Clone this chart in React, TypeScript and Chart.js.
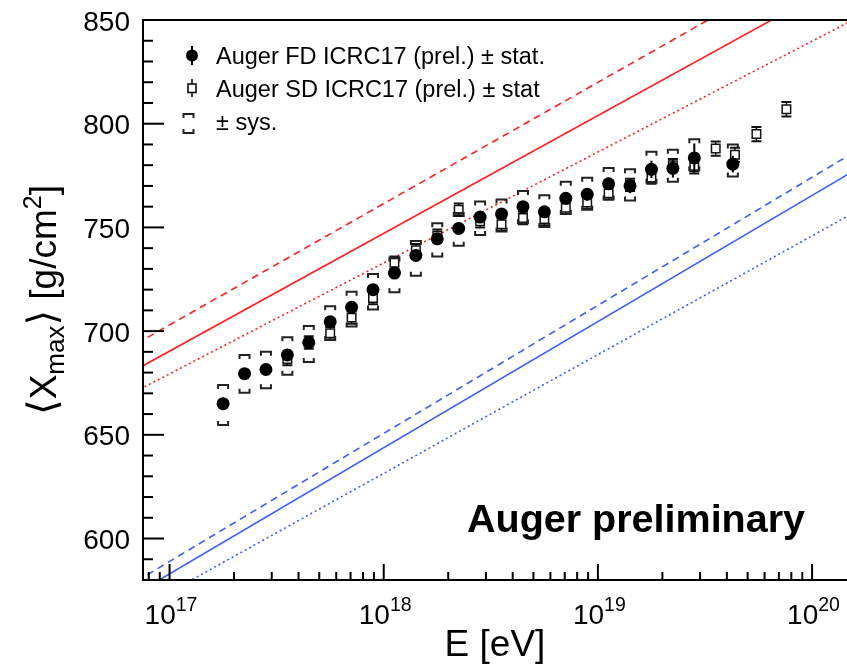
import React, { useEffect, useRef } from "react";
import { Chart, registerables } from "chart.js";

Chart.register(...registerables);

// ---- data (log10 E/eV and <Xmax> in g/cm^2) ----
const FD_LGE = [17.25, 17.35, 17.45, 17.55, 17.65, 17.75, 17.85, 17.95, 18.05, 18.15, 18.25, 18.35, 18.45, 18.55, 18.65, 18.75, 18.85, 18.95, 19.05, 19.15, 19.25, 19.35, 19.45, 19.63];
const FD_XMAX = [665, 679.5, 681.5, 688.5, 694.5, 704.5, 711.5, 720, 728, 736.5, 744.5, 749.5, 755, 756.5, 760, 757.5, 764, 766, 771, 770, 778, 778.5, 783.5, 780.5];
const FD_STAT = [3, 2.5, 2.5, 2.5, 2.5, 2.5, 2.5, 2.5, 2.5, 2.5, 2.5, 2.5, 2.5, 2.5, 2.5, 2.5, 3, 3, 3, 3.5, 4.2, 4.5, 7, 4];
const FD_SYS_UP = [9, 9, 8.5, 8.5, 8, 7.5, 7.5, 7.5, 7.5, 7, 7.5, 7.5, 7.5, 7, 7.5, 8, 8, 8, 7.7, 8, 8.5, 9, 9, 9.5];
const FD_SYS_DOWN = [10.3, 9.2, 9.1, 9.6, 9.4, 8.8, 9.3, 9.6, 9.3, 9.8, 8.5, 8.3, 8.7, 8.5, 8, 7.3, 7.5, 7.5, 7.6, 7, 6.5, 6.5, 6, 6];

const SD_LGE = [17.55, 17.65, 17.75, 17.85, 17.95, 18.05, 18.15, 18.25, 18.35, 18.45, 18.55, 18.65, 18.75, 18.85, 18.95, 19.05, 19.15, 19.25, 19.35, 19.45, 19.55, 19.64, 19.74, 19.88];
const SD_XMAX = [686.5, 694.5, 699, 706.5, 716, 733, 739, 746, 758.5, 753, 751.5, 754.5, 754, 759.5, 762, 766.5, 770.5, 774, 780, 779, 788, 785, 795, 807];
const SD_STAT = [3, 3, 3, 3, 3, 3, 3, 3, 3, 3, 3, 3, 3, 3, 3, 3, 3, 3, 3, 3, 3.4, 3.4, 3.4, 3.5];

// model lines: values at the two ends of MODEL_LGE
const MODEL_LGE = [16.8, 20.2];
const P_SOLID = [679, 872.1];
const P_DASHED = [691.3, 890.1];
const P_DOTTED = [668.7, 850.5];
const FE_SOLID = [570.8, 777.6];
const FE_DASHED = [576.6, 786.5];
const FE_DOTTED = [562.7, 757.4];

// axes
const X_MIN_LG = 16.876;
const X_MAX_LG = 20.163;
const Y_MIN = 580;
const Y_MAX = 850;
const Y_MAJOR_TICKS = [600, 650, 700, 750, 800, 850];
const X_DECADES = [17, 18, 19, 20];

const FONT = '"Liberation Sans", Arial, Helvetica, "DejaVu Sans", sans-serif';
const f = (size: number, bold = false) => `${bold ? "bold " : ""}${size}px ${FONT}`;

type Part = { t: string; size: number; dy: number; bold?: boolean };

function drawRich(ctx: CanvasRenderingContext2D, parts: Part[], x: number, y: number, align: "left" | "center") {
  let total = 0;
  const widths = parts.map((p) => {
    ctx.font = f(p.size, p.bold);
    const w = ctx.measureText(p.t).width;
    total += w;
    return w;
  });
  let cx = align === "center" ? x - total / 2 : x;
  ctx.textAlign = "left";
  ctx.textBaseline = "alphabetic";
  parts.forEach((p, i) => {
    ctx.font = f(p.size, p.bold);
    ctx.fillText(p.t, cx, y + p.dy);
    cx += widths[i];
  });
}

function drawBracket(ctx: CanvasRenderingContext2D, x: number, y: number, half: number, arm: number) {
  ctx.beginPath();
  ctx.moveTo(x - half, y + arm);
  ctx.lineTo(x - half, y);
  ctx.lineTo(x + half, y);
  ctx.lineTo(x + half, y + arm);
  ctx.stroke();
}

const decorPlugin = {
  id: "augerDecor",
  beforeDatasetDraw(chart: any, args: any) {
    const ctx: CanvasRenderingContext2D = chart.ctx;
    const xs = chart.scales.x;
    const ys = chart.scales.y;
    const a = chart.chartArea;
    const label = chart.data.datasets[args.index].label;
    ctx.save();
    ctx.beginPath();
    ctx.rect(a.left, a.top, a.right - a.left, a.bottom - a.top);
    ctx.clip();
    if (label === "SD") {
      ctx.strokeStyle = "#111";
      SD_LGE.forEach((lg, i) => {
        const px = xs.getPixelForValue(Math.pow(10, lg));
        const yHi = ys.getPixelForValue(SD_XMAX[i] + SD_STAT[i]);
        const yLo = ys.getPixelForValue(SD_XMAX[i] - SD_STAT[i]);
        ctx.lineWidth = 1.5;
        ctx.beginPath();
        ctx.moveTo(px, yHi);
        ctx.lineTo(px, yLo);
        ctx.stroke();
        ctx.lineWidth = 2;
        ctx.beginPath();
        ctx.moveTo(px - 5, yHi);
        ctx.lineTo(px + 5, yHi);
        ctx.moveTo(px - 5, yLo);
        ctx.lineTo(px + 5, yLo);
        ctx.stroke();
      });
    }
    if (label === "FD") {
      ctx.strokeStyle = "#222";
      ctx.lineWidth = 2;
      FD_LGE.forEach((lg, i) => {
        const px = xs.getPixelForValue(Math.pow(10, lg));
        const yUp = ys.getPixelForValue(FD_XMAX[i] + FD_SYS_UP[i]);
        const yDn = ys.getPixelForValue(FD_XMAX[i] - FD_SYS_DOWN[i]);
        drawBracket(ctx, px, yUp, 5, 4);
        drawBracket(ctx, px, yDn, 5, -4);
      });
      ctx.strokeStyle = "#000";
      ctx.lineWidth = 2;
      FD_LGE.forEach((lg, i) => {
        const px = xs.getPixelForValue(Math.pow(10, lg));
        ctx.beginPath();
        ctx.moveTo(px, ys.getPixelForValue(FD_XMAX[i] + FD_STAT[i]));
        ctx.lineTo(px, ys.getPixelForValue(FD_XMAX[i] - FD_STAT[i]));
        ctx.stroke();
      });
    }
    ctx.restore();
  },
  afterDraw(chart: any) {
    const ctx: CanvasRenderingContext2D = chart.ctx;
    const xs = chart.scales.x;
    const ys = chart.scales.y;
    const a = chart.chartArea;
    ctx.save();
    ctx.strokeStyle = "#000";
    ctx.fillStyle = "#000";
    ctx.lineWidth = 2;
    // frame (left, top, bottom)
    ctx.beginPath();
    ctx.moveTo(a.right + 2, a.top);
    ctx.lineTo(a.left, a.top);
    ctx.lineTo(a.left, a.bottom);
    ctx.lineTo(a.right + 2, a.bottom);
    ctx.stroke();

    // y ticks
    for (let v = Y_MIN + 10; v <= Y_MAX; v += 10) {
      const py = ys.getPixelForValue(v);
      const major = Y_MAJOR_TICKS.includes(v);
      ctx.beginPath();
      ctx.moveTo(a.left, py);
      ctx.lineTo(a.left + (major ? 21 : 10), py);
      ctx.stroke();
    }
    ctx.font = f(28);
    ctx.textAlign = "right";
    ctx.textBaseline = "alphabetic";
    Y_MAJOR_TICKS.forEach((v) => {
      const py = ys.getPixelForValue(v);
      ctx.fillText(String(v), 130, py + 10.5);
    });

    // x ticks
    for (let d = 16; d <= 20; d++) {
      for (let k = 1; k <= 9; k++) {
        const lg = d + Math.log10(k);
        if (lg < X_MIN_LG || lg > X_MAX_LG) continue;
        const px = xs.getPixelForValue(Math.pow(10, lg));
        ctx.beginPath();
        ctx.moveTo(px, a.bottom);
        ctx.lineTo(px, a.bottom - (k === 1 ? 16 : 8));
        ctx.stroke();
      }
    }
    X_DECADES.forEach((d) => {
      const px = xs.getPixelForValue(Math.pow(10, d));
      drawRich(ctx, [
        { t: "10", size: 28, dy: 0 },
        { t: String(d), size: 19.5, dy: -13.5 },
      ], px - 25, 624, "left");
    });

    // axis titles
    drawRich(ctx, [{ t: "E [eV]", size: 37, dy: 0 }], (a.left + a.right) / 2, 656, "center");
    ctx.save();
    ctx.translate(56, (a.top + a.bottom) / 2);
    ctx.rotate(-Math.PI / 2);
    drawRich(ctx, [
      { t: "\u27E8", size: 40, dy: 0 },
      { t: "X", size: 37, dy: 0 },
      { t: "max", size: 26, dy: 8 },
      { t: "\u27E9", size: 40, dy: 0 },
      { t: " [g/cm", size: 37, dy: 0 },
      { t: "2", size: 25, dy: -15 },
      { t: "]", size: 37, dy: 0 },
    ], 0, 0, "center");
    ctx.restore();

    // legend
    // FD
    ctx.lineWidth = 2;
    ctx.beginPath();
    ctx.moveTo(192, 46);
    ctx.lineTo(192, 65);
    ctx.stroke();
    ctx.beginPath();
    ctx.arc(192, 55.5, 6, 0, Math.PI * 2);
    ctx.fill();
    drawRich(ctx, [{ t: "Auger FD ICRC17 (prel.) \u00B1 stat.", size: 23.5, dy: 0 }], 216, 64, "left");
    // SD
    ctx.lineWidth = 1.5;
    ctx.beginPath();
    ctx.moveTo(192, 79);
    ctx.lineTo(192, 97);
    ctx.stroke();
    ctx.fillStyle = "#fff";
    ctx.fillRect(188, 84, 8, 8.5);
    ctx.strokeRect(188, 84, 8, 8.5);
    ctx.fillStyle = "#000";
    drawRich(ctx, [{ t: "Auger SD ICRC17 (prel.) \u00B1 stat", size: 23.5, dy: 0 }], 216, 96.5, "left");
    // sys
    ctx.strokeStyle = "#222";
    ctx.lineWidth = 2;
    drawBracket(ctx, 188.5, 114, 5, 4);
    drawBracket(ctx, 188.5, 133, 5, -4);
    ctx.fillStyle = "#000";
    drawRich(ctx, [{ t: "\u00B1 sys.", size: 23.5, dy: 0 }], 216, 130, "left");

    // watermark
    drawRich(ctx, [{ t: "Auger preliminary", size: 39.5, dy: 0, bold: true }], 467, 532, "left");
    ctx.restore();
  },
};

function lineData(vals: number[]) {
  return MODEL_LGE.map((lg, i) => ({ x: Math.pow(10, lg), y: vals[i] }));
}

export default function App() {
  const ref = useRef<HTMLCanvasElement | null>(null);
  useEffect(() => {
    if (!ref.current) return;
    const RED = "#ff2020";
    const BLUE = "#3a5cff";
    const mkLine = (label: string, vals: number[], color: string, dash: number[]) => ({
      type: "line" as const,
      label,
      data: lineData(vals),
      borderColor: color,
      borderWidth: 1.6,
      borderDash: dash,
      pointRadius: 0,
      fill: false,
      showLine: true,
      order: 2,
    });
    const chart = new Chart(ref.current, {
      type: "scatter",
      data: {
        datasets: [
          {
            label: "FD",
            data: FD_LGE.map((lg, i) => ({ x: Math.pow(10, lg), y: FD_XMAX[i] })),
            pointStyle: "circle",
            pointRadius: 6.5,
            pointBackgroundColor: "#000",
            pointBorderColor: "#000",
            pointBorderWidth: 0,
            order: 0,
          },
          {
            label: "SD",
            data: SD_LGE.map((lg, i) => ({ x: Math.pow(10, lg), y: SD_XMAX[i] })),
            pointStyle: "rect",
            pointRadius: 6,
            pointBackgroundColor: "#fff",
            pointBorderColor: "#111",
            pointBorderWidth: 1.5,
            order: 1,
          },
          mkLine("p dashed", P_DASHED, RED, [7, 5]),
          mkLine("p solid", P_SOLID, RED, []),
          mkLine("p dotted", P_DOTTED, RED, [2, 3]),
          mkLine("Fe dashed", FE_DASHED, BLUE, [7, 5]),
          mkLine("Fe solid", FE_SOLID, BLUE, []),
          mkLine("Fe dotted", FE_DOTTED, BLUE, [2, 3]),
        ] as any,
      },
      options: {
        animation: false,
        responsive: false,
        devicePixelRatio: 1,
        layout: { autoPadding: false, padding: { top: 20, right: 0, left: 0, bottom: 0 } },
        plugins: { legend: { display: false }, tooltip: { enabled: false } },
        scales: {
          x: {
            type: "logarithmic",
            min: Math.pow(10, X_MIN_LG),
            max: Math.pow(10, X_MAX_LG),
            bounds: "data",
            grid: { display: false },
            border: { display: false },
            ticks: { display: false },
            afterFit: (s: any) => { s.height = 85; },
          },
          y: {
            type: "linear",
            min: Y_MIN,
            max: Y_MAX,
            bounds: "data",
            grid: { display: false },
            border: { display: false },
            ticks: { display: false },
            afterFit: (s: any) => { s.width = 143; },
          },
        },
      } as any,
      plugins: [decorPlugin],
    });
    return () => chart.destroy();
  }, []);
  return (
    <div style={{ position: "absolute", left: 0, top: 0, width: 847, height: 665, background: "#fff" }}>
      <canvas ref={ref} width={847} height={665} style={{ width: 847, height: 665, display: "block" }} />
    </div>
  );
}
